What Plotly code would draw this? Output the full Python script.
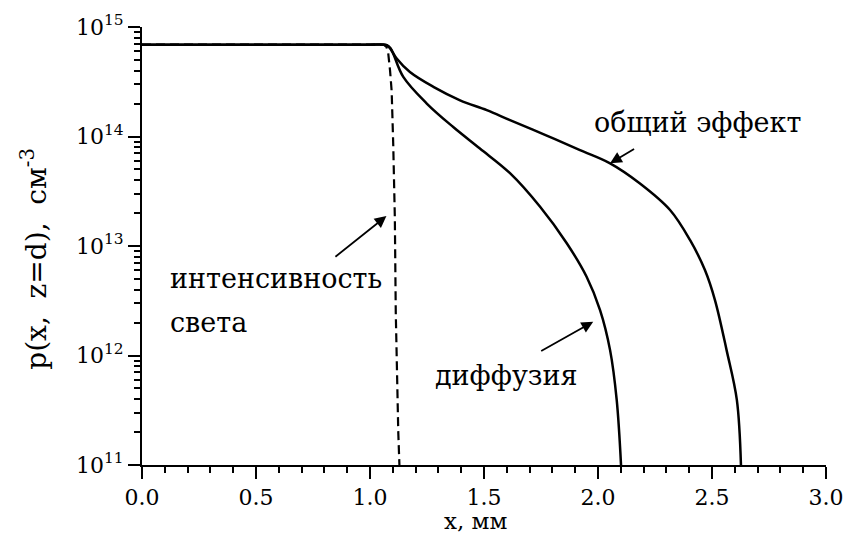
import plotly.graph_objects as go

# Hole concentration profile p(x, z=d) along x, in mm and cm^-3
x_light = [0.0, 0.5, 1.0, 1.06, 1.072, 1.080, 1.088, 1.095, 1.102, 1.109, 1.113, 1.118, 1.124, 1.129]
p_light = [6.9e14, 6.9e14, 6.9e14, 6.9e14, 6.6e14, 5.75e14, 4.0e14, 2.6e14, 8.3e13,
           1.8e13, 2.5e12, 6.3e11, 2.0e11, 1.0e11]

x_diff = [0.0, 0.5, 1.0, 1.06, 1.075, 1.09, 1.102, 1.146, 1.249, 1.365, 1.482, 1.614,
          1.746, 1.863, 1.950, 2.009, 2.053, 2.082, 2.101]
p_diff = [6.9e14, 6.9e14, 6.9e14, 6.9e14, 6.8e14, 6.4e14, 5.71e14, 3.50e14, 2.00e14,
          1.22e14, 7.76e13, 4.62e13, 2.28e13, 1.06e13, 5.24e12, 2.60e12, 1.12e12,
          3.93e11, 1.0e11]

x_total = [0.0, 0.5, 1.0, 1.06, 1.075, 1.09, 1.117, 1.175, 1.278, 1.395, 1.512, 1.614,
           1.77, 1.921, 2.053, 2.184, 2.316, 2.404, 2.469, 2.513, 2.564, 2.609, 2.627]
p_total = [6.9e14, 6.9e14, 6.9e14, 6.9e14, 6.8e14, 6.3e14, 5.15e14, 3.88e14, 2.84e14,
           2.14e14, 1.74e14, 1.41e14, 1.03e14, 7.5e13, 5.68e13, 3.72e13, 2.13e13,
           1.13e13, 6.03e12, 3.21e12, 1.12e12, 3.93e11, 1.0e11]

x_ticks = [0.0, 0.5, 1.0, 1.5, 2.0, 2.5, 3.0]
x_tick_text = ["0.0", "0.5", "1.0", "1.5", "2.0", "2.5", "3.0"]
y_exponents = [11, 12, 13, 14, 15]

FONT = "DejaVu Serif"

fig = go.Figure()
fig.add_trace(go.Scatter(x=x_light, y=p_light, mode="lines",
                         line=dict(color="black", width=2.2, dash="9px,5px")))
fig.add_trace(go.Scatter(x=x_diff, y=p_diff, mode="lines",
                         line=dict(color="black", width=2.5, shape="spline", smoothing=1.0)))
fig.add_trace(go.Scatter(x=x_total, y=p_total, mode="lines",
                         line=dict(color="black", width=2.5, shape="spline", smoothing=1.0)))

y_tickvals = [10.0 ** e for e in y_exponents]
y_ticktext = ["10<sup>%d</sup>" % e for e in y_exponents]
y_minor = [m * 10.0 ** e for e in y_exponents[:-1] for m in range(2, 10)]

fig.update_xaxes(
    range=[0, 3], tickvals=x_ticks, ticktext=x_tick_text, automargin=False,
    showline=True, linecolor="black", linewidth=2,
    ticks="outside", ticklen=12, tickwidth=2, tickcolor="black",
    minor=dict(dtick=0.1, ticks="outside", ticklen=6, tickwidth=2, tickcolor="black"),
    showgrid=False, zeroline=False,
    tickfont=dict(family=FONT, size=22, color="black"),
)
fig.update_yaxes(
    type="log", range=[11, 15], tickvals=y_tickvals, ticktext=y_ticktext, automargin=False,
    showline=True, linecolor="black", linewidth=2,
    ticks="outside", ticklen=12, tickwidth=2, tickcolor="black",
    minor=dict(tickvals=y_minor, ticks="outside", ticklen=6, tickwidth=2, tickcolor="black"),
    showgrid=False, zeroline=False,
    tickfont=dict(family=FONT, size=22, color="black"),
)

# axis titles
fig.add_annotation(xref="paper", yref="paper", x=0.488, y=-0.1598, showarrow=False,
                   xanchor="center", yanchor="bottom", text="x, мм", borderpad=0,
                   font=dict(family=FONT, size=23, color="black"))
fig.add_annotation(xref="paper", yref="paper", x=-0.157, y=0.47, showarrow=False,
                   xanchor="center", yanchor="middle", textangle=-90,
                   text="p(x,&nbsp;&nbsp;z=d),&nbsp;&nbsp;см<sup>-3</sup>",
                   font=dict(family=FONT, size=28, color="black"))

ann_font = dict(family=FONT, size=27, color="black")
arrow = dict(showarrow=True, arrowhead=2, arrowsize=1.3, arrowwidth=1.8, arrowcolor="black")

# arrows pointing from each caption to its curve
fig.add_annotation(x=1.072, y=13.273, ax=-54, ay=43, **arrow)
fig.add_annotation(x=1.979, y=12.308, ax=-55, ay=31, **arrow)
fig.add_annotation(x=2.053, y=13.756, ax=27, ay=-16, **arrow)

fig.add_annotation(x=0.114, y=12.707, xanchor="left", yanchor="middle", showarrow=False,
                   text="интенсивность", font=ann_font)
fig.add_annotation(x=0.114, y=12.30, xanchor="left", yanchor="middle", showarrow=False,
                   text="света", font=ann_font)
fig.add_annotation(x=1.276, y=11.813, xanchor="left", yanchor="middle", showarrow=False,
                   text="диффузия", font=ann_font)
fig.add_annotation(x=1.974, y=14.13, xanchor="left", yanchor="middle", showarrow=False,
                   text="общий эффект", font=ann_font)

fig.update_layout(
    width=845, height=535,
    margin=dict(l=142, r=19, t=27, b=70),
    plot_bgcolor="white", paper_bgcolor="white",
    showlegend=False,
)

fig.write_html("out.html")
